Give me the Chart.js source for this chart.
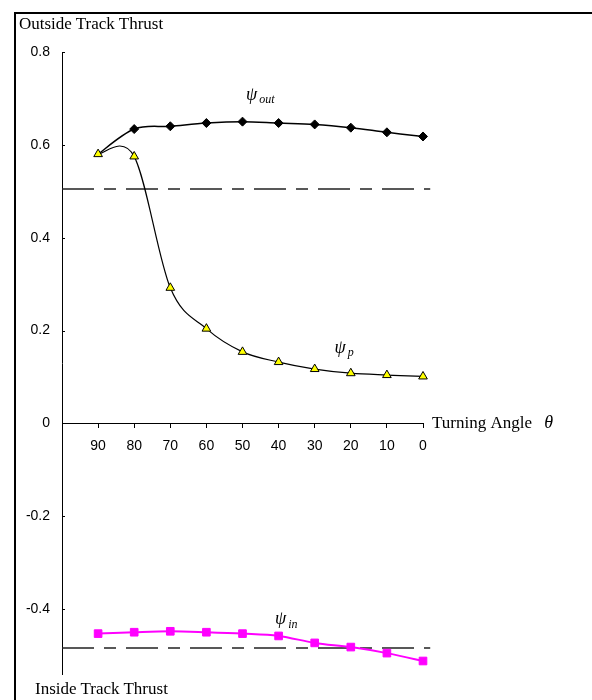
<!DOCTYPE html>
<html>
<head>
<meta charset="utf-8">
<script src="https://cdn.jsdelivr.net/npm/chart.js@4.4.1/dist/chart.umd.min.js"></script>
<style>
  html, body { margin: 0; padding: 0; background: #fff; }
  #wrap { position: relative; width: 592px; height: 700px; overflow: hidden; }
  #frame { position: absolute; left: 14px; top: 12px; width: 640px; height: 720px;
           border-top: 2px solid #000; border-left: 2px solid #000; }
  #thrustChart { position: absolute; left: 0; top: 0; }
  .axtitle { position: absolute; font: 17px "Liberation Serif", "Times New Roman", serif;
             line-height: 17px; color: #000; white-space: nowrap; }
</style>
</head>
<body>
<div id="wrap">
  <div id="frame"></div>
  <canvas id="thrustChart" width="592" height="700"></canvas>
  <div class="axtitle" style="left:19px; top:15px;">Outside Track Thrust</div>
  <div class="axtitle" style="left:35px; top:680px;">Inside Track Thrust</div>
</div>
<script>
// turning angle (deg) and track thrust ratios
var angles = [90, 80, 70, 60, 50, 40, 30, 20, 10, 0];
var psiOut = [0.58, 0.634, 0.640, 0.647, 0.650, 0.647, 0.644, 0.637, 0.627, 0.618];
var psiP   = [0.58, 0.575, 0.292, 0.204, 0.154, 0.132, 0.117, 0.108, 0.104, 0.101];
var psiIn  = [-0.453, -0.450, -0.448, -0.450, -0.453, -0.458, -0.473, -0.482, -0.495, -0.512];

// limit lines
var outerLimit = 0.505;
var innerLimit = -0.484;

var xTicks = [90, 80, 70, 60, 50, 40, 30, 20, 10, 0];
var yTicks = [0.8, 0.6, 0.4, 0.2, 0, -0.2, -0.4];

// curve names, placed in data coordinates
var curveLabels = [
  { sub: 'out', x: 49, y: 0.707 },
  { sub: 'p',   x: 24.5, y: 0.162 },
  { sub: 'in',  x: 41, y: -0.423 }
];

function pts(vals) {
  return angles.map(function (a, i) { return { x: a, y: vals[i] }; });
}

var serif = '"Liberation Serif", "Times New Roman", serif';
var sans = '"Liberation Sans", Arial, sans-serif';

// spreadsheet-style smoothing: control points at +-(next - prev) / 6
var smoothLines = {
  id: 'smoothLines',
  beforeDatasetDraw: function (chart, args) {
    var meta = args.meta, line = meta.dataset;
    if (!line || !line.options.tension) return;
    line.updateControlPoints(chart.chartArea, meta.iScale.axis);
    var p = meta.data, n = p.length;
    for (var i = 0; i < n; i++) {
      var prev = p[Math.max(i - 1, 0)], next = p[Math.min(i + 1, n - 1)];
      var dx = (next.x - prev.x) / 6, dy = (next.y - prev.y) / 6;
      p[i].cp1x = p[i].x - dx; p[i].cp1y = p[i].y - dy;
      p[i].cp2x = p[i].x + dx; p[i].cp2y = p[i].y + dy;
    }
  }
};

var extras = {
  id: 'extras',
  afterDraw: function (chart) {
    var c = chart.ctx, xs = chart.scales.x, ys = chart.scales.y;
    c.save();
    // short inward ticks on the y axis
    c.strokeStyle = '#000';
    c.lineWidth = 1;
    ys.ticks.forEach(function (t) {
      var py = Math.round(ys.getPixelForValue(t.value)) + 0.5;
      c.beginPath();
      c.moveTo(xs.left, py);
      c.lineTo(xs.left + 3, py);
      c.stroke();
    });
    // psi labels
    c.fillStyle = '#000';
    c.textBaseline = 'middle';
    curveLabels.forEach(function (l) {
      var px = xs.getPixelForValue(l.x), py = ys.getPixelForValue(l.y);
      c.font = 'italic 18px ' + serif;
      c.fillText('\u03C8', px, py);
      var w = c.measureText('\u03C8').width;
      c.font = 'italic 12px ' + serif;
      c.fillText(l.sub, px + w + 2, py + 5);
    });
    // x axis title
    var tx = xs.right + 9, ty = ys.getPixelForValue(0) + 5;
    c.textBaseline = 'alphabetic';
    c.font = '17px ' + serif;
    c.fillText('Turning Angle ', tx, ty);
    var tw = c.measureText('Turning Angle ').width;
    c.font = 'italic 18px ' + serif;
    c.fillText('\u03B8', tx + tw + 8, ty);
    c.restore();
  }
};

var ctx = document.getElementById('thrustChart').getContext('2d');
var thrustChart = new Chart(ctx, {
  type: 'line',
  data: {
    datasets: [
      {
        label: 'psi_p',
        data: pts(psiP),
        borderColor: '#000',
        borderWidth: 1.2,
        tension: 0.4,
        clip: false,
        pointStyle: 'triangle',
        pointRadius: 5,
        pointBackgroundColor: '#ffff00',
        pointBorderColor: '#000',
        pointBorderWidth: 1
      },
      {
        label: 'psi_out',
        data: pts(psiOut),
        borderColor: '#000',
        borderWidth: 1.5,
        tension: 0.4,
        clip: false,
        pointStyle: 'rectRot',
        pointRadius: function (c) { return c.dataIndex === 0 ? 0 : 4.5; },
        pointBackgroundColor: '#000',
        pointBorderColor: '#000',
        pointBorderWidth: 1
      },
      {
        label: 'psi_in',
        data: pts(psiIn),
        borderColor: '#ff00ff',
        borderWidth: 2,
        tension: 0.4,
        clip: false,
        pointStyle: 'rect',
        pointRadius: 5.4,
        pointBackgroundColor: '#ff00ff',
        pointBorderColor: '#ff00ff',
        pointBorderWidth: 1
      },
      {
        label: 'outer limit',
        data: [{ x: 100, y: outerLimit }, { x: -2, y: outerLimit }],
        borderColor: '#222',
        borderWidth: 1.5,
        borderDash: [32, 10, 12, 10],
        pointRadius: 0,
        clip: false
      },
      {
        label: 'inner limit',
        data: [{ x: 100, y: innerLimit }, { x: -2, y: innerLimit }],
        borderColor: '#222',
        borderWidth: 1.5,
        borderDash: [32, 10, 12, 10],
        pointRadius: 0,
        clip: false
      }
    ]
  },
  options: {
    responsive: false,
    animation: false,
    layout: { padding: { left: 0, top: 52, right: 169, bottom: 26 } },
    plugins: { legend: { display: false }, tooltip: { enabled: false } },
    scales: {
      x: {
        type: 'linear',
        min: 0,
        max: 100,
        reverse: true,
        position: { y: 0 },
        grid: { drawOnChartArea: false, drawTicks: true, tickLength: 4, color: '#000', tickColor: '#000' },
        border: { display: true, color: '#000', width: 1 },
        ticks: { color: '#000', font: { family: sans, size: 14 }, padding: 10, maxRotation: 0 },
        afterBuildTicks: function (s) { s.ticks = xTicks.map(function (v) { return { value: v }; }); }
      },
      y: {
        type: 'linear',
        min: -0.54,
        max: 0.8,
        grid: { drawOnChartArea: false, drawTicks: false },
        border: { display: true, color: '#000', width: 1 },
        ticks: {
          color: '#000',
          font: { family: sans, size: 14 },
          padding: 12,
          callback: function (v) { return String(v); }
        },
        afterBuildTicks: function (s) { s.ticks = yTicks.map(function (v) { return { value: v }; }); },
        afterFit: function (s) { s.width = 62; }
      }
    }
  },
  plugins: [smoothLines, extras]
});
</script>
</body>
</html>
